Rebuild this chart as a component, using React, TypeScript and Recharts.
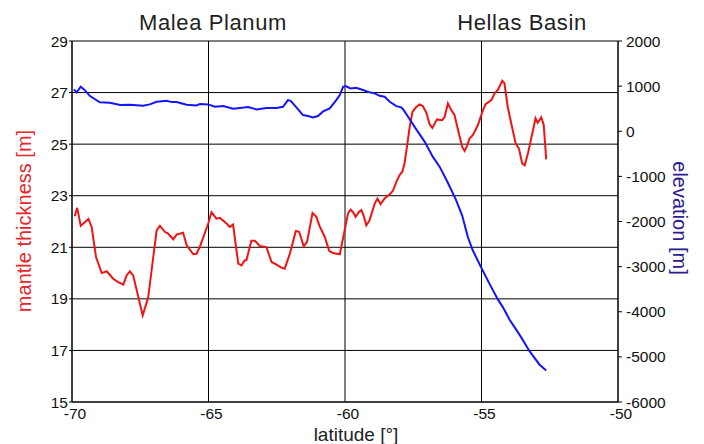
import React from 'react';
import { LineChart, Line, XAxis, YAxis, CartesianGrid } from 'recharts';

// latitude ticks and axis ticks
const latTicks = [-70, -65, -60, -55, -50];
const thicknessTicks = [15, 17, 19, 21, 23, 25, 27, 29];
const elevationTicks = [-6000, -5000, -4000, -3000, -2000, -1000, 0, 1000, 2000];

// mantle thickness profile [m]
const thicknessLat = [
  -69.9, -69.81, -69.68, -69.4, -69.28, -69.12, -68.91, -68.73, -68.49, -68.31,
  -68.12, -68.0, -67.88, -67.76, -67.57, -67.41, -67.21, -66.9, -66.78, -66.6,
  -66.48, -66.29, -66.17, -65.93, -65.8, -65.56, -65.44, -65.32, -65.01, -64.89,
  -64.71, -64.58, -64.34, -64.22, -64.1, -63.91, -63.79, -63.67, -63.61, -63.43,
  -63.3, -63.12, -62.88, -62.69, -62.51, -62.33, -62.21, -62.02, -61.8, -61.68,
  -61.51, -61.39, -61.19, -61.05, -60.93, -60.74, -60.58, -60.44, -60.19, -60.05,
  -59.89, -59.8, -59.71, -59.61, -59.49, -59.4, -59.32, -59.22, -59.1, -58.91,
  -58.81, -58.7, -58.55, -58.36, -58.24, -58.12, -58.0, -57.9, -57.82, -57.73,
  -57.63, -57.53, -57.41, -57.27, -57.15, -57.02, -56.9, -56.8, -56.63, -56.44,
  -56.35, -56.23, -56.11, -55.99, -55.83, -55.71, -55.62, -55.54, -55.44, -55.32,
  -55.13, -54.97, -54.85, -54.64, -54.52, -54.4, -54.24, -54.16, -54.04, -53.91,
  -53.75, -53.63, -53.51, -53.42, -53.3, -53.18, -53.02, -52.94, -52.81, -52.72,
  -52.63,
];
const thicknessVal = [
  22.2, 22.53, 21.83, 22.1, 21.79, 20.62, 20.0, 20.07, 19.78, 19.65,
  19.55, 19.91, 20.07, 19.91, 19.07, 18.36, 19.05, 21.66, 21.83, 21.6,
  21.53, 21.31, 21.49, 21.56, 21.08, 20.73, 20.75, 21.01, 21.92, 22.36,
  22.11, 22.14, 21.92, 21.79, 21.88, 20.37, 20.3, 20.5, 20.5, 21.25,
  21.25, 21.05, 21.01, 20.43, 20.33, 20.21, 20.17, 20.75, 21.63, 21.6,
  21.04, 21.21, 22.33, 22.18, 21.82, 21.4, 20.86, 20.78, 20.73, 21.47,
  22.31, 22.46, 22.37, 22.18, 22.37, 22.44, 22.24, 21.85, 22.05, 22.7,
  22.89, 22.67, 22.89, 23.06, 23.2, 23.54, 23.8, 23.93, 24.25, 24.9,
  25.67, 26.25, 26.42, 26.54, 26.48, 26.22, 25.77, 25.63, 25.96, 25.93,
  26.06, 26.58, 26.32, 26.13, 25.42, 24.9, 24.74, 24.9, 25.22, 25.35,
  25.74, 26.25, 26.55, 26.71, 26.97, 27.1, 27.46, 27.36, 26.45, 25.8,
  25.03, 24.83, 24.25, 24.18, 24.64, 25.22, 26.0, 25.83, 26.04, 25.74,
  24.41,
];

// elevation profile [m]
const elevationLat = [
  -69.93, -69.83, -69.68, -69.56, -69.34, -68.98, -68.61, -68.24, -67.88, -67.39,
  -67.15, -66.9, -66.53, -66.35, -66.17, -65.8, -65.44, -65.32, -65.01, -64.77,
  -64.46, -64.1, -63.85, -63.55, -63.24, -62.88, -62.51, -62.27, -62.09, -61.99,
  -61.78, -61.54, -61.35, -61.17, -60.99, -60.8, -60.56, -60.32, -60.19, -60.07,
  -59.97, -59.8, -59.59, -59.34, -59.1, -58.91, -58.73, -58.55, -58.36, -58.12,
  -57.94, -57.85, -57.69, -57.45, -57.08, -56.78, -56.53, -56.25, -55.95, -55.71,
  -55.5, -55.32, -55.01, -54.71, -54.4, -54.22, -53.97, -53.79, -53.55, -53.24,
  -52.88, -52.63,
];
const elevationVal = [
  928, 862, 986, 928, 779, 640, 631, 580, 587, 564,
  595, 653, 675, 646, 646, 587, 573, 602, 595, 542,
  557, 498, 513, 535, 484, 513, 513, 542, 691, 675,
  529, 358, 336, 307, 336, 440, 506, 691, 802, 986,
  1001, 950, 964, 913, 862, 839, 786, 764, 653, 557,
  529, 469, 320, 98, -235, -568, -790, -1120, -1500, -1862,
  -2343, -2638, -3023, -3377, -3726, -3897, -4176, -4341, -4563, -4873,
  -5168, -5301,
];

const thicknessData = thicknessLat.map((lat, i) => ({ lat, thickness: thicknessVal[i] }));
const elevationData = elevationLat.map((lat, i) => ({ lat, elevation: elevationVal[i] }));

const font = '"Liberation Sans", Arial, Helvetica, sans-serif';
const tickStyle = { fontSize: 15.5, fill: '#111', fontFamily: font };

export default function App() {
  return (
    <div style={{ position: 'absolute', left: 0, top: 0, width: 704, height: 444, background: '#fff' }}>
      <LineChart width={704} height={444} margin={{ top: 41, right: 0, bottom: 0, left: 0 }}>
        <CartesianGrid yAxisId="left" stroke="#000" strokeWidth={1} horizontalValues={thicknessTicks} verticalValues={latTicks} />
        <XAxis
          dataKey="lat"
          type="number"
          domain={[-70, -50]}
          ticks={latTicks}
          allowDuplicatedCategory={false}
          height={42}
          stroke="#000"
          tickLine={false}
          tickSize={0}
          tickMargin={6}
          tick={{ ...tickStyle, dx: 3 }}
        />
        <YAxis
          yAxisId="left"
          orientation="left"
          domain={[15, 29]}
          ticks={thicknessTicks}
          width={72}
          stroke="#000"
          tickSize={3}
          tickMargin={1}
          tick={tickStyle}
        />
        <YAxis
          yAxisId="right"
          orientation="right"
          domain={[-6000, 2000]}
          ticks={elevationTicks}
          width={86}
          stroke="#000"
          tickSize={4}
          tickMargin={4}
          tick={tickStyle}
        />
        <Line
          yAxisId="left"
          data={thicknessData}
          dataKey="thickness"
          type="linear"
          stroke="#f01414"
          strokeWidth={2}
          dot={false}
          isAnimationActive={false}
        />
        <Line
          yAxisId="right"
          data={elevationData}
          dataKey="elevation"
          type="linear"
          stroke="#1414ff"
          strokeWidth={2}
          dot={false}
          isAnimationActive={false}
        />
      </LineChart>
      <svg width={704} height={444} style={{ position: 'absolute', left: 0, top: 0, pointerEvents: 'none' }}>
        <g fontFamily={font} fontSize={22} fill="#222" letterSpacing={0.6}>
          <text x={213} y={30} textAnchor="middle">Malea Planum</text>
          <text x={522} y={30} textAnchor="middle">Hellas Basin</text>
        </g>
        <text x={30.5} y={221} transform="rotate(-90 30.5 221)" textAnchor="middle" fontFamily={font} fontSize={20} fill="#e8262a">
          mantle thickness [m]
        </text>
        <text x={673} y={218} transform="rotate(90 673 218)" textAnchor="middle" fontFamily={font} fontSize={20} fill="#2b2090">
          elevation [m]
        </text>
        <text x={356} y={440.5} textAnchor="middle" fontFamily={font} fontSize={19} fill="#222">
          latitude [°]
        </text>
      </svg>
    </div>
  );
}
